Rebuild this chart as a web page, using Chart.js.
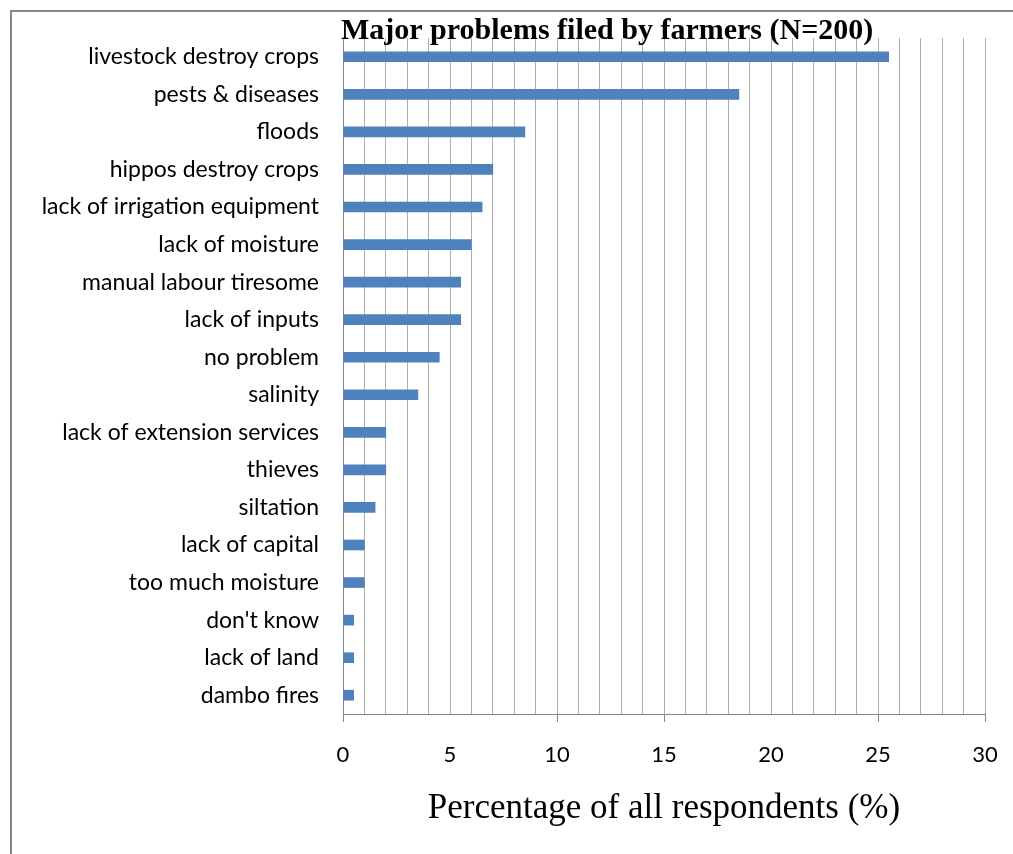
<!DOCTYPE html>
<html>
<head>
<meta charset="utf-8">
<script src="https://cdn.jsdelivr.net/npm/chart.js@4/dist/chart.umd.min.js"></script>
<style>
  html, body { margin: 0; padding: 0; background: #fff; }
  #wrap { position: relative; width: 1013px; height: 854px; overflow: hidden; }
  #frame { position: absolute; left: 10px; top: 10px; right: -10px; bottom: -10px;
           border-left: 2px solid #868686; border-top: 2px solid #868686; pointer-events: none; }
  canvas { position: absolute; left: 0; top: 0; }
</style>
</head>
<body>
<div id="wrap">
  <canvas id="chart" width="1013" height="854"></canvas>
  <div id="frame"></div>
</div>
<script>
// Problems reported, share of respondents (%)
const problems = [
  "livestock destroy crops",
  "pests & diseases",
  "floods",
  "hippos destroy crops",
  "lack of irrigation equipment",
  "lack of moisture",
  "manual labour tiresome",
  "lack of inputs",
  "no problem",
  "salinity",
  "lack of extension services",
  "thieves",
  "siltation",
  "lack of capital",
  "too much moisture",
  "don't know",
  "lack of land",
  "dambo fires"
];
const percentages = [25.5, 18.5, 8.5, 7, 6.5, 6, 5.5, 5.5, 4.5, 3.5, 2, 2, 1.5, 1, 1, 0.5, 0.5, 0.5];
const axisMin = 0;
const axisMax = 30;
const labelStep = 5;
const markedTicks = [0, 10, 15, 25, 30];

const chartTitle = "Major problems filed by farmers (N=200)";
const axisTitle = "Percentage of all respondents (%)";

// Title sits over the top of the plot area, left-aligned with it
const overlayTitle = {
  id: 'overlayTitle',
  afterDraw(chart) {
    const { ctx, chartArea } = chart;
    ctx.save();
    ctx.font = 'bold 30px "Liberation Serif", "Times New Roman", serif';
    ctx.fillStyle = '#000';
    ctx.textAlign = 'left';
    ctx.textBaseline = 'alphabetic';
    ctx.fillText(chartTitle, chartArea.left - 2, chartArea.top + 1);
    ctx.restore();
  }
};

new Chart(document.getElementById('chart'), {
  type: 'bar',
  data: {
    labels: problems,
    datasets: [{
      data: percentages,
      backgroundColor: '#4f81bd',
      borderWidth: 0,
      barThickness: 10
    }]
  },
  options: {
    indexAxis: 'y',
    responsive: false,
    animation: false,
    layout: { padding: { top: 38, right: 28, left: 0, bottom: 0 } },
    plugins: {
      legend: { display: false },
      title: { display: false },
      tooltip: { enabled: false }
    },
    scales: {
      x: {
        min: axisMin,
        max: axisMax,
        afterFit(scale) {
          scale.height = 140;
          scale.paddingLeft = 0;
          scale.paddingRight = 0;
        },
        border: { display: true, color: '#878787', width: 1 },
        grid: {
          color: '#afafaf',
          lineWidth: 1,
          drawTicks: true,
          tickLength: 8,
          tickColor: (ctx) => (ctx.tick && markedTicks.includes(ctx.tick.value)) ? '#878787' : 'rgba(0,0,0,0)'
        },
        ticks: {
          stepSize: 1,
          autoSkip: false,
          maxRotation: 0,
          padding: 20,
          color: '#000',
          font: { family: 'Lato, "Open Sans", sans-serif', size: 22 },
          callback: (v) => (v % labelStep === 0 ? String(v) : '')
        },
        title: {
          display: true,
          text: axisTitle,
          color: '#000',
          font: { family: '"Liberation Serif", "Times New Roman", serif', size: 35 },
          padding: { top: 0, bottom: 24 }
        }
      },
      y: {
        afterFit(scale) { scale.width = 343; },
        border: { display: true, color: '#878787', width: 1 },
        grid: { display: false, drawTicks: false },
        ticks: {
          padding: 24,
          color: '#000',
          autoSkip: false,
          font: { family: 'Lato, "Open Sans", sans-serif', size: 23 }
        }
      }
    }
  },
  plugins: [overlayTitle]
});
</script>
</body>
</html>
